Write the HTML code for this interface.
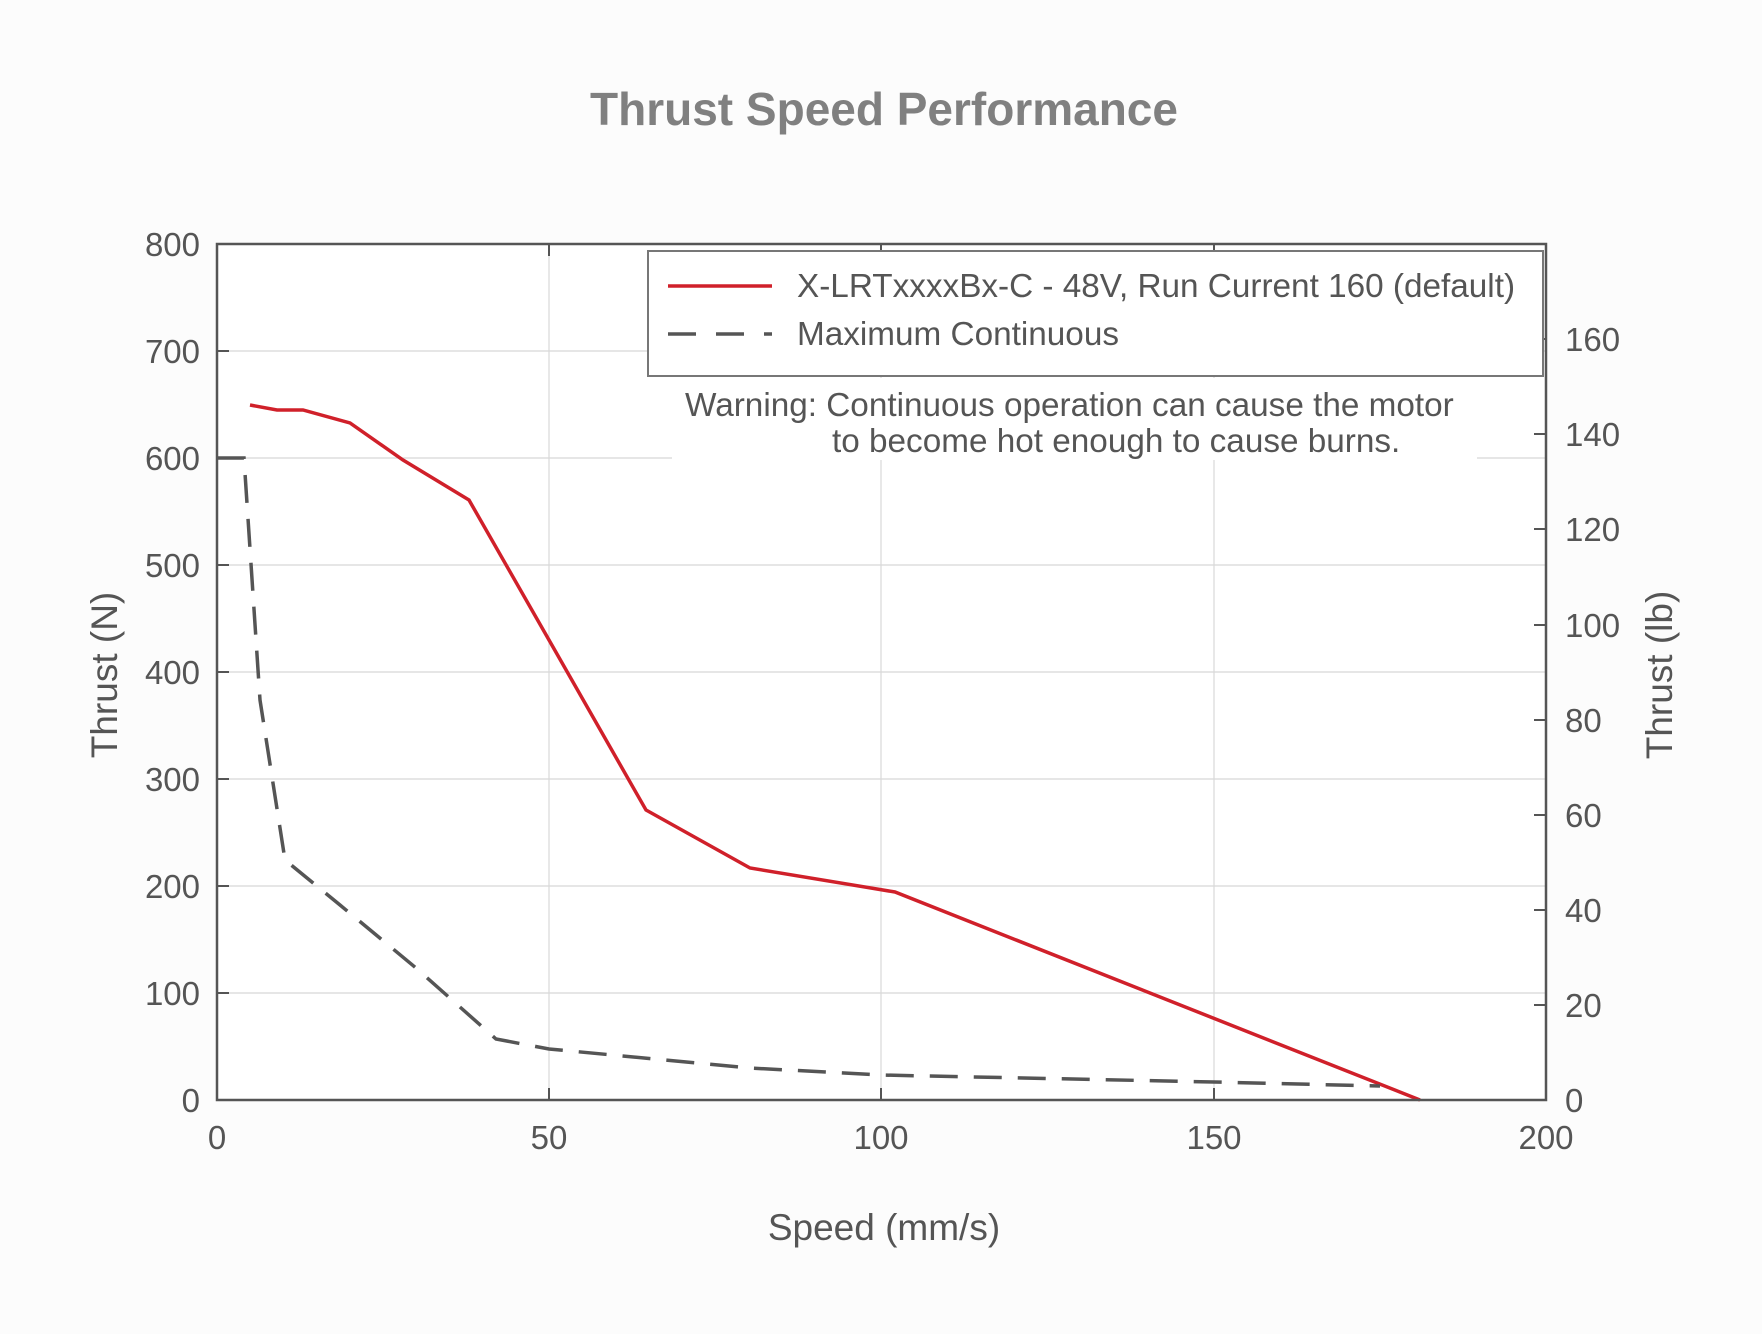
<!DOCTYPE html>
<html><head><meta charset="utf-8"><style>body{margin:0;background:#fcfcfc}svg{display:block}</style></head>
<body>
<svg width="1762" height="1334" xmlns="http://www.w3.org/2000/svg" font-family="Liberation Sans, sans-serif">
<rect width="1762" height="1334" fill="#fcfcfc"/>
<rect x="217" y="244" width="1329" height="856" fill="#fff"/>
<g stroke="#d8d8d8" stroke-width="1.2">
<line x1="549" y1="244" x2="549" y2="1100"/><line x1="881" y1="244" x2="881" y2="1100"/><line x1="1214" y1="244" x2="1214" y2="1100"/>
<line x1="217" y1="351" x2="1546" y2="351"/><line x1="217" y1="458" x2="1546" y2="458"/><line x1="217" y1="565" x2="1546" y2="565"/><line x1="217" y1="672" x2="1546" y2="672"/><line x1="217" y1="779" x2="1546" y2="779"/><line x1="217" y1="886" x2="1546" y2="886"/><line x1="217" y1="993" x2="1546" y2="993"/>
</g>
<rect x="672" y="378" width="805" height="82" fill="#fff"/>
<polyline fill="none" stroke="#d0202a" stroke-width="3.5" points="250,405 277,410 303,410 350,423 403,460 469,500 549,640 646,810 750,868 895,892 1420,1100"/>
<polyline fill="none" stroke="#555" stroke-width="3.5" stroke-dasharray="28,16" points="217,458 244,458 260,700 285,860 340,905 416,968 496,1039 549,1049 750,1068 881,1075 1214,1082 1380,1086"/>
<rect x="217" y="244" width="1329" height="856" stroke="#555" stroke-width="2.5" fill="none"/>
<g stroke="#555" stroke-width="2">
<line x1="217" y1="351" x2="229" y2="351"/><line x1="217" y1="458" x2="229" y2="458"/><line x1="217" y1="565" x2="229" y2="565"/><line x1="217" y1="672" x2="229" y2="672"/><line x1="217" y1="779" x2="229" y2="779"/><line x1="217" y1="886" x2="229" y2="886"/><line x1="217" y1="993" x2="229" y2="993"/>
<line x1="549" y1="1100" x2="549" y2="1088"/><line x1="881" y1="1100" x2="881" y2="1088"/><line x1="1214" y1="1100" x2="1214" y2="1088"/>
<line x1="549" y1="244" x2="549" y2="256"/><line x1="881" y1="244" x2="881" y2="256"/><line x1="1214" y1="244" x2="1214" y2="256"/>
<line x1="1546" y1="1005" x2="1534" y2="1005"/><line x1="1546" y1="910" x2="1534" y2="910"/><line x1="1546" y1="815" x2="1534" y2="815"/><line x1="1546" y1="720" x2="1534" y2="720"/><line x1="1546" y1="625" x2="1534" y2="625"/><line x1="1546" y1="529" x2="1534" y2="529"/><line x1="1546" y1="434" x2="1534" y2="434"/><line x1="1546" y1="339" x2="1534" y2="339"/>
</g>
<rect x="648" y="251" width="895" height="125" fill="#fff" stroke="#777" stroke-width="2"/>
<line x1="668" y1="286" x2="772" y2="286" stroke="#d0202a" stroke-width="3.5"/>
<line x1="668" y1="334" x2="772" y2="334" stroke="#555" stroke-width="3.5" stroke-dasharray="28,20"/>
<g fill="#555" font-size="33.3">
<text x="797" y="297">X-LRTxxxxBx-C - 48V, Run Current 160 (default)</text>
<text x="797" y="345">Maximum Continuous</text>
<text x="685" y="416">Warning: Continuous operation can cause the motor</text>
<text x="832" y="452">to become hot enough to cause burns.</text>
</g>
<g fill="#555" font-size="33" text-anchor="end">
<text x="200" y="256">800</text><text x="200" y="363">700</text><text x="200" y="470">600</text><text x="200" y="577">500</text><text x="200" y="684">400</text><text x="200" y="791">300</text><text x="200" y="898">200</text><text x="200" y="1005">100</text><text x="200" y="1112">0</text>
</g>
<g fill="#555" font-size="33">
<text x="1565" y="1112">0</text><text x="1565" y="1017">20</text><text x="1565" y="922">40</text><text x="1565" y="827">60</text><text x="1565" y="732">80</text><text x="1565" y="637">100</text><text x="1565" y="541">120</text><text x="1565" y="446">140</text><text x="1565" y="351">160</text>
</g>
<g fill="#555" font-size="33" text-anchor="middle">
<text x="217" y="1149">0</text><text x="549" y="1149">50</text><text x="881" y="1149">100</text><text x="1214" y="1149">150</text><text x="1546" y="1149">200</text>
<text x="884" y="1240" font-size="37">Speed (mm/s)</text>
<text transform="translate(117,675) rotate(-90)" font-size="37">Thrust (N)</text>
<text transform="translate(1672,675) rotate(-90)" font-size="37">Thrust (lb)</text>
<text x="884" y="125" font-size="46" font-weight="bold" fill="#808080">Thrust Speed Performance</text>
</g>
</svg>
</body></html>
